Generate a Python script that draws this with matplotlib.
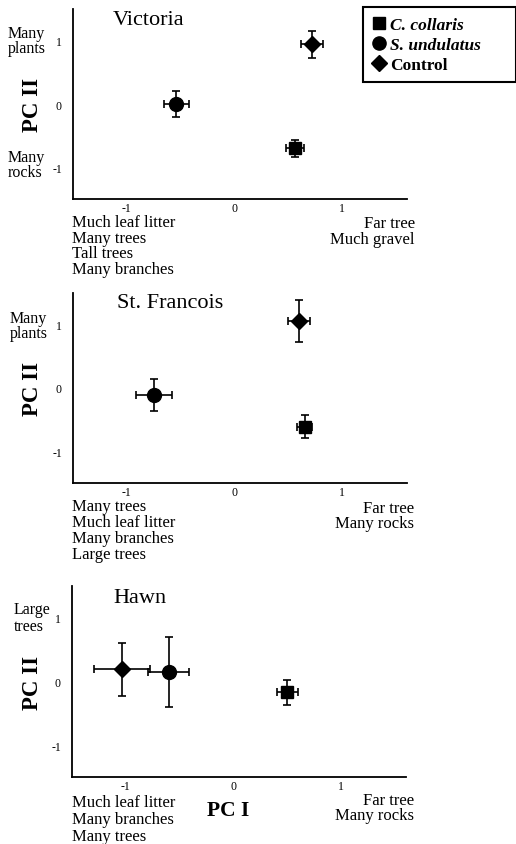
import matplotlib
matplotlib.use("Agg")
import matplotlib.pyplot as plt
from matplotlib.lines import Line2D

plt.rcParams['font.family'] = ['Liberation Serif', 'DejaVu Serif']
plt.rcParams['axes.unicode_minus'] = False

# ---------------- data ----------------
sites = ["Victoria", "St. Francois", "Hawn"]
series_names = ["C. collaris", "S. undulatus", "Control"]

collaris_x = [0.56, 0.65, 0.50]
collaris_y = [-0.70, -0.61, -0.17]
collaris_xerr = [0.08, 0.07, 0.10]
collaris_yerr = [0.13, 0.18, 0.20]

undulatus_x = [-0.54, -0.75, -0.60]
undulatus_y = [0.00, -0.11, 0.15]
undulatus_xerr = [0.12, 0.165, 0.19]
undulatus_yerr = [0.21, 0.25, 0.55]

control_x = [0.72, 0.60, -1.04]
control_y = [0.94, 1.06, 0.19]
control_xerr = [0.10, 0.10, 0.26]
control_yerr = [0.21, 0.33, 0.41]

tick_vals = [-1, 0, 1]
tick_labels = ["-1", "0", "1"]

left_top_labels = ["Many\nplants", "Many\nplants", "Large\ntrees"]
left_bottom_labels = ["Many\nrocks", None, None]
bottom_left_labels = ["Much leaf litter\nMany trees\nTall trees\nMany branches",
                      "Many trees\nMuch leaf litter\nMany branches\nLarge trees",
                      "Much leaf litter\nMany branches\nMany trees"]
bottom_right_labels = ["Far tree\nMuch gravel",
                       "Far tree\nMany rocks",
                       "Far tree\nMany rocks"]

# ---------------- layout ----------------
W, H = 516, 845
fig = plt.figure(figsize=(W / 100, H / 100), dpi=100)

def fx(px):
    return px / W

def fy(py):
    return 1 - py / H

def ftext(xp, yp, s, **kw):
    fig.text(fx(xp), fy(yp), s, **kw)

# axes boxes in pixels: left, top, right, bottom
boxes = [(73, 10, 407, 200), (73, 294, 407, 484), (72, 587, 406, 778)]
title_pos = [(113, 25), (117, 308), (113, 603)]
# positions are of the LAST line's baseline
lt_pos = [(8, 53), (10, 338), (14, 631)]
lt_ls = [0.94, 0.94, 1.08]
lb_pos = [(8, 177), None, None]
bl_pos = [(72, 274), (72, 559), (72, 841)]
br_pos = [(415, 244), (414, 528), (414, 820)]
bl_ls = [0.97, 0.99, 1.065]
br_ls = [0.97, 0.9, 0.9]

lab_fs = 12
for i, (l, t, r, b) in enumerate(boxes):
    ax = fig.add_axes([fx(l), fy(b), (r - l) / W, (b - t) / H])
    ax.set_xlim(-1.5, 1.6)
    ax.set_ylim(-1.5, 1.5)
    for sp in ['top', 'right']:
        ax.spines[sp].set_visible(False)
    for sp in ['left', 'bottom']:
        ax.spines[sp].set_linewidth(1.3)
    ax.set_xticks(tick_vals)
    ax.set_xticklabels(tick_labels)
    ax.set_yticks(tick_vals)
    ax.set_yticklabels(tick_labels)
    ax.tick_params(axis='both', length=0, labelsize=8.5)
    ax.tick_params(axis='x', pad=2)
    ax.tick_params(axis='y', pad=8)

    ekw = dict(color='k', capsize=3, elinewidth=1.2, capthick=1.2, ls='none')
    ax.errorbar(collaris_x[i], collaris_y[i], xerr=collaris_xerr[i], yerr=collaris_yerr[i],
                marker='s', ms=9, **ekw)
    ax.errorbar(undulatus_x[i], undulatus_y[i], xerr=undulatus_xerr[i], yerr=undulatus_yerr[i],
                marker='o', ms=10, **ekw)
    ax.errorbar(control_x[i], control_y[i], xerr=control_xerr[i], yerr=control_yerr[i],
                marker='D', ms=8.5, **ekw)

    # title inside
    ftext(*title_pos[i], sites[i], fontsize=16, ha='left', va='baseline')
    # PC II
    ftext(33, (t + b) / 2, "PC II", fontsize=16.5, fontweight='bold', rotation=90,
          ha='center', va='center')
    # left descriptors
    x0, y0 = lt_pos[i]
    ftext(x0, y0, left_top_labels[i], fontsize=11.5, ha='left', va='baseline',
          linespacing=lt_ls[i])
    if lb_pos[i] is not None:
        x0, y0 = lb_pos[i]
        ftext(x0, y0, left_bottom_labels[i], fontsize=11.5, ha='left', va='baseline',
              linespacing=0.94)
    x0, y0 = bl_pos[i]
    ftext(x0, y0, bottom_left_labels[i], fontsize=lab_fs, ha='left', va='baseline',
          linespacing=bl_ls[i], multialignment='left')
    x0, y0 = br_pos[i]
    ftext(x0, y0, bottom_right_labels[i], fontsize=lab_fs, ha='right', va='baseline',
          linespacing=br_ls[i], multialignment='right')

ftext(207, 816, "PC I", fontsize=15.5, fontweight='bold', ha='left', va='baseline')

# legend
handles = [Line2D([], [], ls='none', marker='s', color='k', ms=8.5),
           Line2D([], [], ls='none', marker='o', color='k', ms=9.5),
           Line2D([], [], ls='none', marker='D', color='k', ms=8)]
leg = fig.legend(handles, series_names, loc='upper left',
                 bbox_to_anchor=(fx(363), fy(82), (516 - 363) / W, 74 / H),
                 mode='expand', borderaxespad=0, fancybox=False, framealpha=1,
                 edgecolor='k', fontsize=12.5, handlelength=0.7, handletextpad=0.3,
                 labelspacing=0.22, borderpad=0.55)
leg.get_frame().set_linewidth(1.5)
for j, txt in enumerate(leg.get_texts()):
    txt.set_fontweight('bold')
    if j < 2:
        txt.set_fontstyle('italic')

fig.savefig("out.png", dpi=100)
